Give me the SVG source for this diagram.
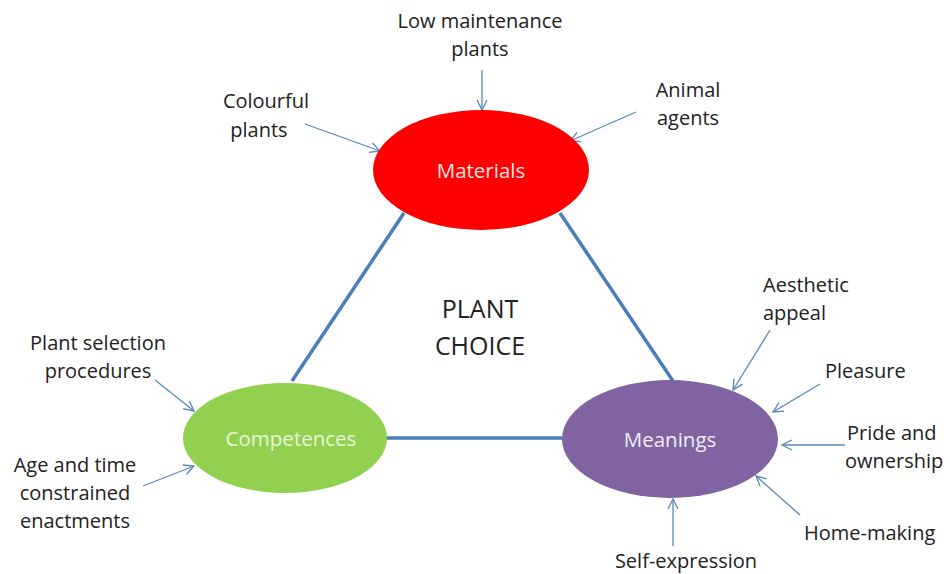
<svg xmlns="http://www.w3.org/2000/svg" width="950" height="574" viewBox="0 0 950 574">
<style>
.lbl{font-family:"Open Sans","Noto Sans",sans-serif;font-size:20px;fill:#222}
.nt{font-family:"Open Sans","Noto Sans",sans-serif;font-size:20.5px}
.edge{stroke:#4a7ebb;stroke-width:3.5;fill:none}
.arr{stroke:#5b87b8;stroke-width:1.3;fill:none;marker-end:url(#ah)}
</style>
<defs>
<marker id="ah" viewBox="0 0 12 12" refX="11" refY="6" markerWidth="12" markerHeight="12" markerUnits="userSpaceOnUse" orient="auto">
<path d="M1,1 L11,6 L1,11" fill="none" stroke="#5b87b8" stroke-width="1.3"/>
</marker>
</defs>
<rect width="950" height="574" fill="#fff"/>
<g id="connectors">
<line class="edge" x1="404" y1="213" x2="292" y2="381"/>
<line class="edge" x1="560" y1="213" x2="673" y2="381"/>
<line class="edge" x1="386" y1="438" x2="563" y2="438"/>
<line class="arr" x1="482" y1="70" x2="482" y2="110"/>
<line class="arr" x1="305" y1="124" x2="380" y2="151"/>
<line class="arr" x1="636" y1="112" x2="570" y2="141"/>
<line class="arr" x1="155" y1="380" x2="194" y2="411"/>
<line class="arr" x1="143" y1="486" x2="194" y2="466"/>
<line class="arr" x1="770" y1="330" x2="733" y2="390"/>
<line class="arr" x1="820" y1="384" x2="773" y2="412"/>
<line class="arr" x1="845" y1="445" x2="782" y2="445"/>
<line class="arr" x1="800" y1="515" x2="756" y2="476"/>
<line class="arr" x1="673" y1="546" x2="673" y2="499"/>
</g>
<g id="materials">
<ellipse cx="481" cy="170" rx="108" ry="60" fill="#fe0000"/>
<text class="nt" x="481" y="178" text-anchor="middle" fill="#fbe4e4">Materials</text>
</g>
<g id="competences">
<ellipse cx="285" cy="438" rx="102" ry="55" fill="#92d050"/>
<text class="nt" x="291" y="446" text-anchor="middle" fill="#eaf6d8">Competences</text>
</g>
<g id="meanings">
<ellipse cx="670" cy="439" rx="108" ry="59" fill="#8064a2"/>
<text class="nt" x="670" y="447" text-anchor="middle" fill="#f0ecf5">Meanings</text>
</g>
<g id="center">
<text class="lbl" x="480" y="318" text-anchor="middle" style="font-size:25px">PLANT</text>
<text class="lbl" x="480" y="355" text-anchor="middle" style="font-size:25px">CHOICE</text>
</g>
<g id="labels">
<text class="lbl" x="480" y="28" text-anchor="middle">Low maintenance</text>
<text class="lbl" x="480" y="56" text-anchor="middle">plants</text>
<text class="lbl" x="266" y="108" text-anchor="middle">Colourful</text>
<text class="lbl" x="259" y="137" text-anchor="middle">plants</text>
<text class="lbl" x="688" y="97" text-anchor="middle">Animal</text>
<text class="lbl" x="688" y="125" text-anchor="middle">agents</text>
<text class="lbl" x="98" y="350" text-anchor="middle">Plant selection</text>
<text class="lbl" x="98" y="378" text-anchor="middle">procedures</text>
<text class="lbl" x="75" y="472" text-anchor="middle">Age and time</text>
<text class="lbl" x="75" y="500" text-anchor="middle">constrained</text>
<text class="lbl" x="75" y="528" text-anchor="middle">enactments</text>
<text class="lbl" x="763" y="292">Aesthetic</text>
<text class="lbl" x="763" y="320">appeal</text>
<text class="lbl" x="825" y="378">Pleasure</text>
<text class="lbl" x="847" y="440">Pride and</text>
<text class="lbl" x="845" y="468">ownership</text>
<text class="lbl" x="804" y="540">Home-making</text>
<text class="lbl" x="686" y="568" text-anchor="middle">Self-expression</text>
</g>
</svg>
